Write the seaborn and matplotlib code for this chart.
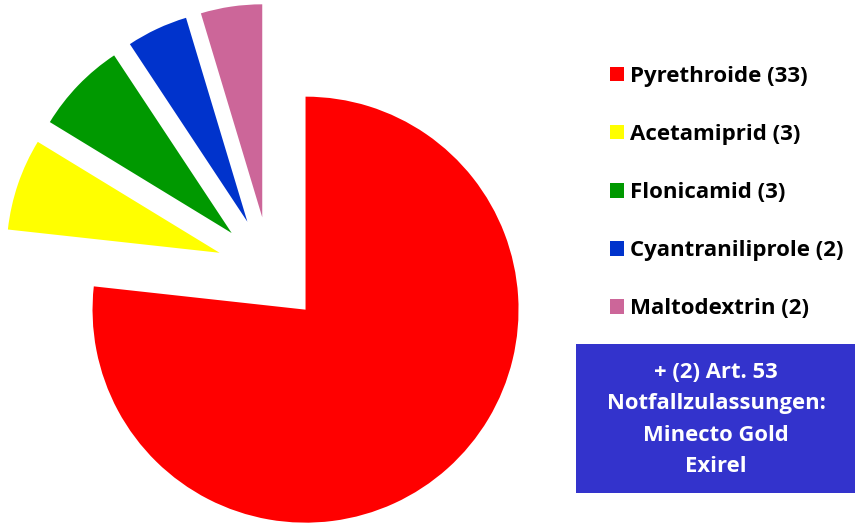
import matplotlib
matplotlib.use("Agg")
import matplotlib.pyplot as plt
from matplotlib.patches import Rectangle
import seaborn as sns

# counts of active substances
substances = ["Pyrethroide", "Acetamiprid", "Flonicamid", "Cyantraniliprole", "Maltodextrin"]
counts = [33, 3, 3, 2, 2]
colors = ["#FF0000", "#FFFF00", "#009900", "#0033CC", "#CC6699"]
box_lines = ["+ (2) Art. 53", "Notfallzulassungen:", "Minecto Gold", "Exirel"]

sns.set_style("white")
plt.rcParams["font.family"] = ["Open Sans", "DejaVu Sans"]

W, H = 855, 523
fig = plt.figure(figsize=(W / 100, H / 100), dpi=100)
ax = fig.add_axes([0, 0, 1, 1])

R = 213.0          # pie radius in pixels
cx, cy = 270, 270  # pie centre (pixels from top-left)

wedges, _ = ax.pie(counts, colors=sns.color_palette(colors), startangle=90,
                   counterclock=False, explode=[0.25] * len(counts),
                   wedgeprops=dict(linewidth=0))
ax.set_xlim(-cx / R, (W - cx) / R)
ax.set_ylim(-(H - cy) / R, cy / R)
ax.axis("off")

labels = [f"{s} ({c})" for s, c in zip(substances, counts)]
leg = fig.legend(wedges, labels, loc="upper left", bbox_to_anchor=(590 / W, 1 - 46 / H),
                 frameon=False, handlelength=0.62, handleheight=0.62, handletextpad=0.3,
                 labelspacing=1.67, labelcolor="black",
                 prop=dict(weight="bold", size=16))

# blue note box
fig.patches.append(Rectangle((576 / W, 1 - 493 / H), (W - 576) / W, (493 - 344) / H,
                             transform=fig.transFigure, facecolor="#3333CC",
                             edgecolor="none"))
fig.text(716 / W, 1 - 419.5 / H, "\n".join(box_lines), ha="center", va="center",
         color="white", fontsize=15.8, fontweight="bold", linespacing=1.63)

fig.savefig("out.png", dpi=100)
